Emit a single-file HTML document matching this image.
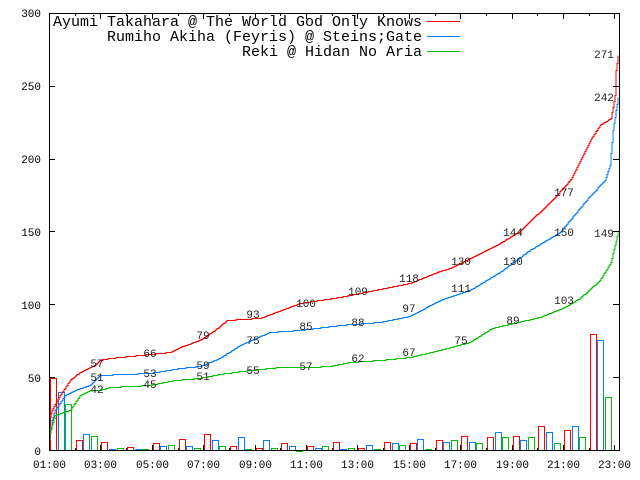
<!DOCTYPE html>
<html><head><meta charset="utf-8"><style>
body{margin:0;background:#fff}
svg{display:block}
text{font-family:"Liberation Mono",monospace}
</style></head><body>
<svg id="s" width="640" height="480" xmlns="http://www.w3.org/2000/svg">
<rect x="0" y="0" width="640" height="480" fill="#fff"/>
<g id="bars" fill="none" stroke-width="1"></g>
<g id="lines" fill="none" stroke-width="1"></g>
<g id="lbl" font-size="11" fill="#222" text-anchor="middle"></g>
<rect x="49.5" y="13.5" width="570" height="437" fill="none" stroke="#000" stroke-width="1"/>
<g id="ticks" stroke="#000" stroke-width="1"></g>
<g font-size="11" fill="#000" text-anchor="end">
<text x="41" y="17">300</text><text x="41" y="90">250</text><text x="41" y="163">200</text>
<text x="41" y="236">150</text><text x="41" y="309">100</text><text x="41" y="382">50</text><text x="41" y="455">0</text>
</g>
<g id="xl" font-size="11" fill="#000" text-anchor="middle"></g>
<g font-size="15" fill="#000" text-anchor="end">
<text x="422" y="26">Ayumi Takahara @ The World God Only Knows</text>
<text x="422" y="41">Rumiho Akiha (Feyris) @ Steins;Gate</text>
<text x="422" y="56">Reki @ Hidan No Aria</text>
</g>
<g stroke-width="1">
<line x1="427" y1="21.5" x2="460" y2="21.5" stroke="#ff0000"/>
<line x1="427" y1="36.5" x2="460" y2="36.5" stroke="#0080ff"/>
<line x1="427" y1="51.5" x2="460" y2="51.5" stroke="#00c000"/>
</g>
</svg>
<script>
var NS="http://www.w3.org/2000/svg";
function el(p,t,a,txt){var e=document.createElementNS(NS,t);for(var k in a)e.setAttribute(k,a[k]);if(txt!=null)e.textContent=txt;document.getElementById(p).appendChild(e);}
var C=["#ff0000","#0080ff","#00c000"];
var y0=450.5,sc=1.457,hw=25.7;
var B=[[50,40,32],[7,11,10],[6,1,2],[2.5,1,1],[5,3,4],[8,3,2],[11,7,3],[3,9,1],[2,7,2],[5,3,0],[3,2,3],[6,1,2],[2,4,1],[6,5,4],[5,8,1],[7,6,7],[10,6,5],[9,13,9],[10,7,9],[17,13,5],[14,17,9],[80,76,37]];
for(var h=0;h<B.length;h++){for(var j=0;j<3;j++){var x=Math.round(49+h*hw+1+j*7.6)+0.5;var v=B[h][j];var y=Math.round(y0-v*sc)+0.5;
el("bars","path",{d:"M"+x+" "+y0+"V"+y+"H"+(x+6)+"V"+y0,stroke:C[j]});}}
var L=[
[[49,420],[52,410],[60,395],[70,380],[80,372],[95,365],[100,360],[110,358],[150,354],[170,352],[180,347],[200,340],[215,330],[227,320],[260,318],[300,303],[340,297],[380,289],[410,283],[440,271],[450,268],[480,253],[500,243],[520,231],[556,196],[571,179],[592,137],[600,125],[611,118],[615,95],[616,70],[618,55]],
[[49,440],[52,420],[55,410],[65,395],[75,390],[90,385],[100,375],[150,373],[180,368],[200,366],[220,358],[240,345],[270,332],[300,330],[340,325],[380,322],[410,316],[440,300],[470,290],[500,272],[530,250],[560,232],[590,196],[605,180],[610,165],[613,130],[618,97]],
[[49,437],[52,425],[55,415],[70,410],[80,395],[90,390],[100,390],[110,387],[150,385],[175,380],[200,378],[220,374],[250,370],[280,367],[310,367],[330,366],[350,362],[380,360],[410,357],[440,350],[470,342],[492,328],[540,317],[565,307],[580,298],[600,280],[611,262],[618,232]]];
for(var i=0;i<3;i++){var P=L[i],d="M"+P[0][0]+" "+(P[0][1]+0.5),k=0,prev=P[0][1];
for(var x=P[0][0]+1;x<=P[P.length-1][0];x++){while(k<P.length-2&&P[k+1][0]<x)k++;var a=P[k],b=P[k+1];var t=(x-a[0])/(b[0]-a[0]);if(t>1)t=1;var y=Math.round(a[1]+(b[1]-a[1])*t);
d+="H"+x;if(y!=prev){d+="V"+(y+0.5);prev=y;}}
el("lines","path",{d:d,stroke:C[i]});}
var T=[
[[97,367,"57"],[150,357,"66"],[203,339,"79"],[253,318,"93"],[306,307,"100"],[358,295,"109"],[409,282,"118"],[461,265,"130"],[513,236,"144"],[564,196,"177"],[604,101,"242"],[604,58,"271"]],
[[97,381,"51"],[150,377,"53"],[203,369,"59"],[253,344,"75"],[306,330,"85"],[358,326,"88"],[409,312,"97"],[461,292,"111"],[513,265,"130"],[564,236,"150"]],
[[97,393,"42"],[150,388,"45"],[203,380,"51"],[253,374,"55"],[306,370,"57"],[358,362,"62"],[409,356,"67"],[461,344,"75"],[513,324,"89"],[564,304,"103"],[604,237,"149"]]];
T.forEach(function(s){s.forEach(function(p){el("lbl","text",{x:p[0],y:p[1]},p[2]);});});
for(var h=0;h<=22;h++){var x=Math.round(49+h*hw)+0.5;el("ticks","line",{x1:x,y1:451,x2:x,y2:h%2?448:445});el("ticks","line",{x1:x,y1:13,x2:x,y2:h%2?16:19});
if(h%2==0){var hh=h+1;el("xl","text",{x:x,y:468},(hh<10?"0":"")+hh+":00");}}
for(var v=0;v<=300;v+=50){var y=Math.round(450-v*sc)+0.5;el("ticks","line",{x1:49,y1:y,x2:55,y2:y});el("ticks","line",{x1:619,y1:y,x2:613,y2:y});}
</script>
</body></html>
